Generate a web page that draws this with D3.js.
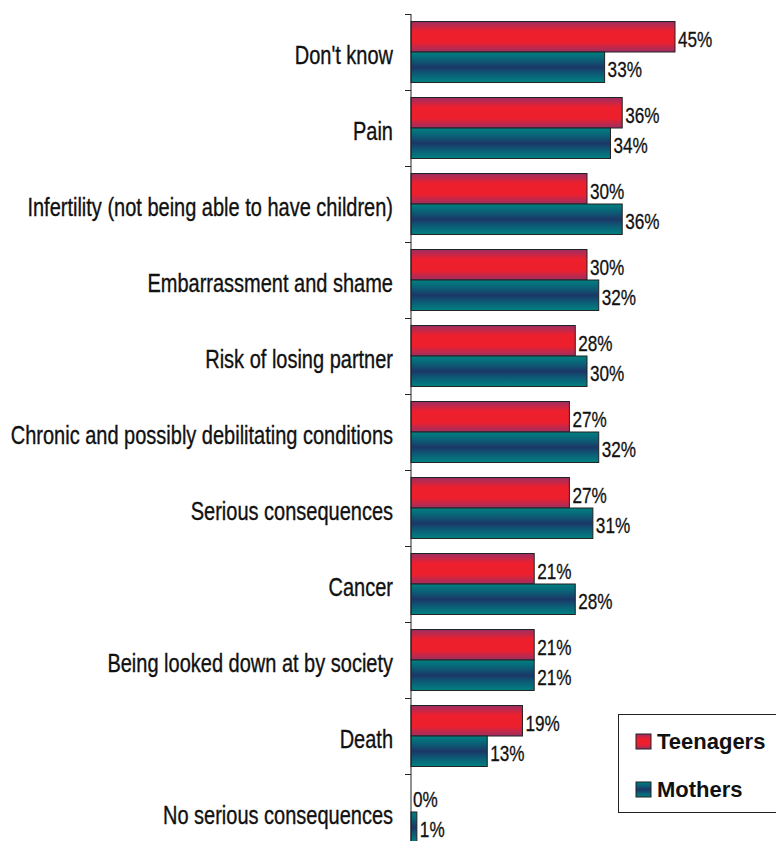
<!DOCTYPE html>
<html>
<head>
<meta charset="utf-8">
<script src="https://cdn.jsdelivr.net/npm/d3@7"></script>
<style>
  html, body { margin: 0; padding: 0; background: #fff; }
  svg { display: block; }
  .cat { font-family: "Liberation Sans", Arial, sans-serif; font-size: 25px; fill: #111; stroke: #111; stroke-width: 0.35px; }
  .val { font-family: "Liberation Sans", Arial, sans-serif; font-size: 22px; fill: #111; stroke: #111; stroke-width: 0.3px; }
  .leg { font-family: "Liberation Sans", Arial, sans-serif; font-size: 22px; font-weight: bold; fill: #111; }
</style>
</head>
<body>
<svg id="chart" width="776" height="841"></svg>
<script>
// Perceived consequences, share of respondents (%)
const categories = [
  "Don't know",
  "Pain",
  "Infertility (not being able to have children)",
  "Embarrassment and shame",
  "Risk of losing partner",
  "Chronic and possibly debilitating conditions",
  "Serious consequences",
  "Cancer",
  "Being looked down at by society",
  "Death",
  "No serious consequences"
];
const seriesNames = ["Teenagers", "Mothers"];
const teenagers = [45, 36, 30, 30, 28, 27, 27, 21, 21, 19, 0];
const mothers   = [33, 34, 36, 32, 30, 32, 31, 28, 21, 13, 1];

const svg = d3.select("#chart");
const W = 776, H = 841;
const catSqueeze = 0.8;  // horizontal squeeze for the condensed category face
const valSqueeze = 0.78; // same for the value labels

const axisX = 411;
const x = d3.scaleLinear().domain([0, 45]).range([axisX, 675]);
const y = d3.scaleBand().domain(categories).range([14, 14 + 76 * categories.length]).padding(0);
const ySeries = d3.scaleBand().domain(seriesNames).range([7.5, y.bandwidth() - 7.5]).padding(0);

// Vertical gradients giving the bars their cylindrical shading
const defs = svg.append("defs");
function gradient(id, stops) {
  const g = defs.append("linearGradient").attr("id", id)
    .attr("x1", 0).attr("y1", 0).attr("x2", 0).attr("y2", 1);
  stops.forEach(([o, c]) => g.append("stop").attr("offset", o).attr("stop-color", c));
  return `url(#${id})`;
}
const fills = {
  Teenagers: gradient("gTeen", [[0, "#9a2f63"], [0.32, "#ee1f2d"], [0.68, "#ee1f2d"], [1, "#9a2f63"]]),
  Mothers: gradient("gMoth", [[0, "#008080"], [0.25, "#0b6077"], [0.5, "#1b3767"], [0.75, "#0b6077"], [1, "#008080"]])
};

const rows = categories.map((c, i) => ({
  cat: c,
  vals: [
    { s: "Teenagers", v: teenagers[i] },
    { s: "Mothers", v: mothers[i] }
  ]
}));

const groups = svg.append("g").selectAll("g.row")
  .data(rows).join("g")
  .attr("class", "row")
  .attr("transform", d => `translate(0,${y(d.cat)})`);

groups.selectAll("rect")
  .data(d => d.vals).join("rect")
  .attr("x", x(0))
  .attr("y", d => ySeries(d.s))
  .attr("width", d => x(d.v) - x(0))
  .attr("height", ySeries.bandwidth())
  .attr("fill", d => fills[d.s])
  .attr("stroke", d => d.v > 0 ? "#222" : "none")
  .attr("stroke-width", 1);

groups.selectAll("text.val")
  .data(d => d.vals).join("text")
  .attr("class", "val")
  .attr("transform", d => `translate(${x(d.v) + (d.v > 0 ? 3 : 2)},${ySeries(d.s) + ySeries.bandwidth() / 2 + 10}) scale(${valSqueeze},1)`)
  .text(d => d.v + "%");

// Category labels
groups.append("text")
  .attr("class", "cat")
  .attr("transform", `translate(393,${y.bandwidth() / 2 + 12}) scale(${catSqueeze},1)`)
  .attr("text-anchor", "end")
  .text(d => d.cat);

// Category axis with ticks on band boundaries
const axisG = svg.append("g");
axisG.append("line")
  .attr("x1", axisX).attr("x2", axisX)
  .attr("y1", y.range()[0]).attr("y2", H)
  .attr("stroke", "#222").attr("stroke-width", 1);
axisG.selectAll("line.tick")
  .data(categories).join("line")
  .attr("class", "tick")
  .attr("x1", axisX - 6).attr("x2", axisX)
  .attr("y1", d => y(d) + 0.5).attr("y2", d => y(d) + 0.5)
  .attr("stroke", "#222").attr("stroke-width", 1);

// Legend
const leg = svg.append("g").attr("transform", "translate(618,714)");
leg.append("rect")
  .attr("x", 0.5).attr("y", 0.5).attr("width", 175).attr("height", 98)
  .attr("fill", "#fff").attr("stroke", "#222").attr("stroke-width", 1);
const legItems = leg.selectAll("g.item").data(seriesNames).join("g")
  .attr("class", "item")
  .attr("transform", (d, i) => `translate(18,${20 + i * 48})`);
legItems.append("rect")
  .attr("width", 15).attr("height", 15)
  .attr("fill", d => fills[d]).attr("stroke", "#222").attr("stroke-width", 1);
legItems.append("text")
  .attr("class", "leg")
  .attr("x", 21).attr("y", 15)
  .text(d => d);
</script>
</body>
</html>
